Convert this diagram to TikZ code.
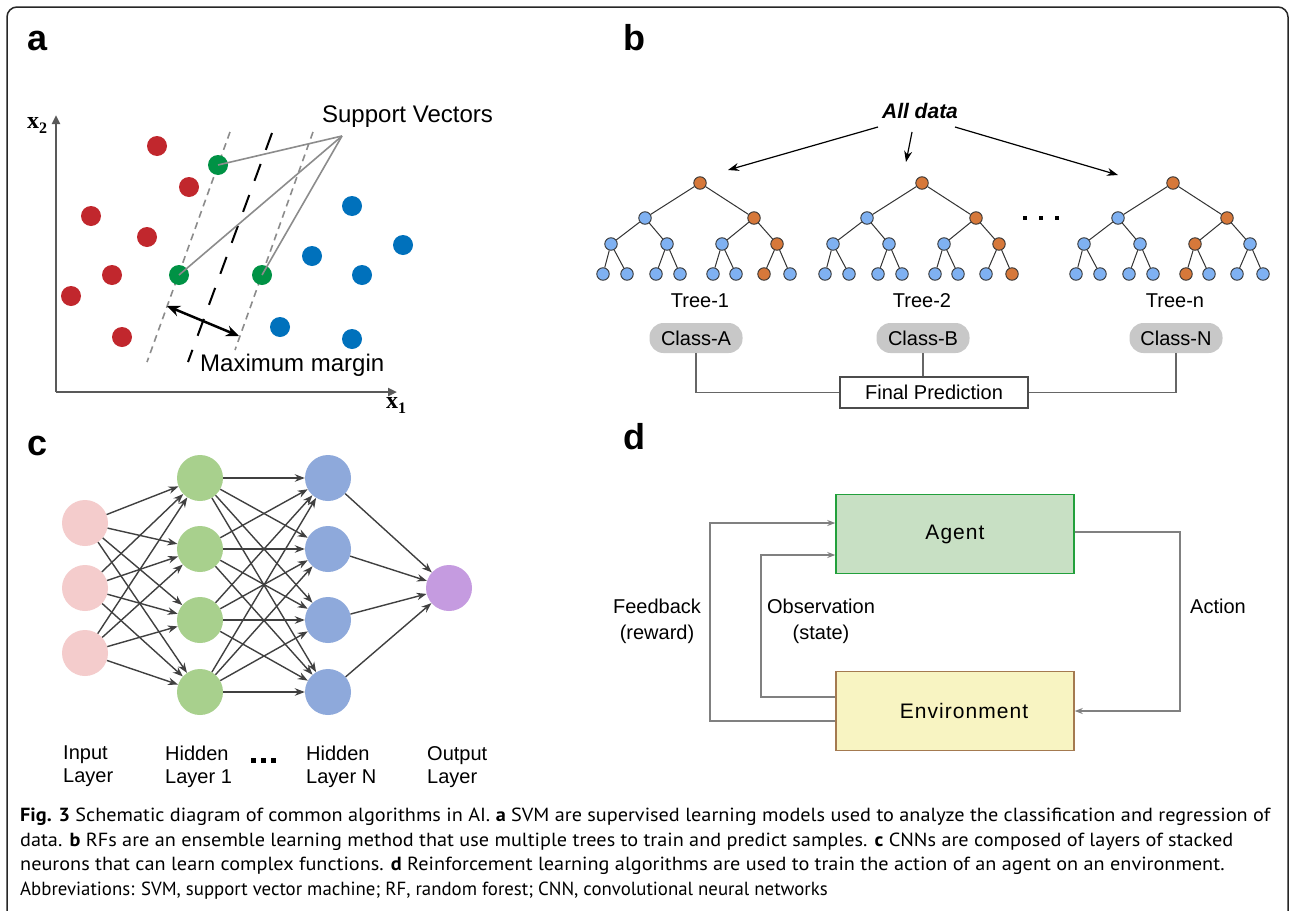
\documentclass[tikz,border=0pt]{standalone}
\usepackage{fontspec}
\setmainfont{Liberation Sans}
\newfontfamily\capfont{PT Sans}
\newfontfamily\serifx{Liberation Serif}
\usepackage{graphicx}
\usetikzlibrary{arrows.meta,calc}

\definecolor{svmred}{HTML}{C1272D}
\definecolor{svmgreen}{HTML}{009245}
\definecolor{svmblue}{HTML}{0071BC}
\definecolor{rfblue}{HTML}{7FB1F2}
\definecolor{rforange}{HTML}{D6783A}
\definecolor{nnpink}{HTML}{F4CCCC}
\definecolor{nngreen}{HTML}{A8D08D}
\definecolor{nnblue}{HTML}{8EA9DB}
\definecolor{nnpurple}{HTML}{C59BE0}
\definecolor{agentfill}{HTML}{C8E0C4}
\definecolor{agentdraw}{HTML}{22A03C}
\definecolor{envfill}{HTML}{F8F4C2}
\definecolor{envdraw}{HTML}{A47A50}
\definecolor{pillgray}{HTML}{C8C8C8}

\newcommand\fsz[2]{\fontsize{#1}{#2}\selectfont}

\newcommand\rftree[5]{%
  \node[rfo] (#2r) at (#1,183) {};
  \foreach \i/\dx in {1/-55,2/54}{%
    \ifnum\i=#3\relax \node[rfo] (#2a\i) at (#1+\dx,218) {};\else \node[rfb] (#2a\i) at (#1+\dx,218) {};\fi}
  \foreach \i/\dx in {1/-89,2/-33,3/22,4/77}{%
    \ifnum\i=#4\relax \node[rfo] (#2b\i) at (#1+\dx,244) {};\else \node[rfb] (#2b\i) at (#1+\dx,244) {};\fi}
  \foreach \i/\dx in {1/-97,2/-73,3/-44,4/-20,5/13,6/36,7/64,8/90}{%
    \ifnum\i=#5\relax \node[rfo] (#2c\i) at (#1+\dx,274) {};\else \node[rfb] (#2c\i) at (#1+\dx,274) {};\fi}
  \foreach \k in {1,2}{%
    \pgfmathtruncatemacro\mA{2*\k-1}\pgfmathtruncatemacro\mB{2*\k}%
    \draw[rfedge] (#2r) -- (#2a\k);
    \draw[rfedge] (#2a\k) -- (#2b\mA);
    \draw[rfedge] (#2a\k) -- (#2b\mB);}
  \foreach \k in {1,...,4}{%
    \pgfmathtruncatemacro\mA{2*\k-1}\pgfmathtruncatemacro\mB{2*\k}%
    \draw[rfedge] (#2b\k) -- (#2c\mA);
    \draw[rfedge] (#2b\k) -- (#2c\mB);}
}

\newsavebox\capboxA
\newlength\capwA

\begin{document}
\sbox\capboxA{\capfont\fsz{19}{23}\textbf{Fig. 3} Schematic diagram of common algorithms in AI. \textbf{a} SVM are supervised learning models used to analyze the classification and regression of}%
\setlength\capwA{\wd\capboxA}%
\pgfmathsetmacro\capsc{1250/\capwA}%
\pgfmathsetmacro\capscD{0.93*\capsc}%
\begin{tikzpicture}[x=1pt,y=-1pt,
  lab/.style={anchor=base west, inner sep=0, font=\fsz{36}{36}\bfseries},
  axis/.style={draw=black!65, line width=2.5pt, -{Triangle[length=9pt,width=8pt]}},
  dot/.style={circle, inner sep=0, minimum size=20pt, draw=none},
  svdash/.style={draw=black!45, line width=1.6pt, dash pattern=on 7pt off 5pt},
  midline/.style={draw=black, line width=2pt, dash pattern=on 18pt off 15pt},
  svline/.style={draw=black!45, line width=1.6pt},
  marg/.style={draw=black, line width=2.5pt, {Stealth[length=13pt,width=11pt]}-{Stealth[length=13pt,width=11pt]}},
  txt/.style={inner sep=0, font=\fsz{20}{24}},
  rfb/.style={circle, inner sep=0, minimum size=12.5pt, fill=rfblue, draw=black!80, line width=0.9pt},
  rfo/.style={rfb, fill=rforange},
  rfedge/.style={draw=black!80, line width=1pt},
  rfarr/.style={draw=black, line width=1.2pt, -{Stealth[length=11pt,width=8pt]}},
  pill/.style={rectangle, rounded corners=14pt, fill=pillgray, minimum width=93pt, minimum height=30pt, inner sep=0, font=\fsz{20}{24}},
  conn/.style={draw=black!60, line width=1.5pt},
  nn/.style={circle, inner sep=0, minimum size=46pt, draw=none},
  nnarr/.style={draw=black!75, line width=1.4pt, -{Stealth[length=10pt,width=7.5pt]}},
  nnlab/.style={anchor=north west, inner sep=0, align=left, font=\fsz{20}{23}},
  dbox/.style={rectangle, minimum width=238pt, minimum height=79pt, inner sep=0, line width=1.5pt, font=\fsz{21}{24}\addfontfeature{LetterSpace=5}},
  dline/.style={draw=black!50, line width=1.5pt},
  darr/.style={dline, -{Stealth[length=8pt,width=6pt]}},
  dlab/.style={anchor=north, inner sep=0, align=center, font=\fsz{20}{26}},
  capline/.style={anchor=base west, inner sep=0}
]
\useasboundingbox (0,0) rectangle (1292,910);
\fill[white] (0,0) rectangle (1292,910);
\draw[line width=1.5pt, draw=black!85, rounded corners=10pt] (7,7) rectangle (1288,960);

% ---------------- panel a ----------------
\node[lab] (la) at (27,50) {a};
\coordinate (O) at (56,392);
\coordinate (yt) at (56,115);
\coordinate (xt) at (397,392);
\draw[axis] (O) -- (yt);
\draw[axis] (O) -- (xt);
\node[anchor=base west, inner sep=0] (xtwo) at (27,128) {\serifx\bfseries\fsz{24}{24}x\raisebox{-5pt}{\fsz{16}{16}2}};
\node[anchor=base west, inner sep=0] (xone) at (386,408) {\serifx\bfseries\fsz{24}{24}x\raisebox{-5pt}{\fsz{16}{16}1}};

\draw[svdash] (230,132) -- (147,362);
\draw[svdash] (313,132) -- (235,350);
\draw[midline] (272,133) -- (188,362);

\foreach \n/\x/\y in {1/157/146,2/189/187,3/91/216,4/147/237,5/112/275,6/71/296,7/122/337}
  \node[dot, fill=svmred] (r\n) at (\x,\y) {};
\foreach \n/\x/\y in {1/352/206,2/403/245,3/312/256,4/362/275,5/280/327,6/352/339}
  \node[dot, fill=svmblue] (bl\n) at (\x,\y) {};
\node[dot, fill=svmgreen] (g1) at (218,165) {};
\node[dot, fill=svmgreen] (g2) at (179,275) {};
\node[dot, fill=svmgreen] (g3) at (262,275) {};

\coordinate (sv) at (342,136);
\draw[svline] (sv) -- (g1.center);
\draw[svline] (sv) -- (g2.center);
\draw[svline] (sv) -- (g3.center);
\node[anchor=base, inner sep=0, font=\fsz{24}{28}] (svt) at (407.5,122) {Support Vectors};

\coordinate (ma1) at (167,306);
\coordinate (ma2) at (239,336);
\draw[marg] (ma1) -- (ma2);
\node[anchor=base west, inner sep=0, font=\fsz{24}{28}] (mmt) at (200,371) {Maximum margin};

% ---------------- panel b ----------------
\node[lab] (lb) at (623,50) {b};
\node[anchor=base, inner sep=0, font=\fsz{21}{24}\bfseries\itshape] (alldata) at (920,118) {All data};
\coordinate (ad1) at (878,127); \coordinate (ad1e) at (728,170);
\coordinate (ad2) at (912,132); \coordinate (ad2e) at (906,162);
\coordinate (ad3) at (955,127); \coordinate (ad3e) at (1118,175);
\draw[rfarr] (ad1) -- (ad1e);
\draw[rfarr] (ad2) -- (ad2e);
\draw[rfarr] (ad3) -- (ad3e);

\rftree{700}{ta}{2}{4}{7}
\rftree{922}{tb}{2}{4}{8}
\rftree{1173}{tn}{2}{3}{5}

\foreach \x in {1025,1041,1057} \fill (\x-2.2,215.8) rectangle (\x+2.2,220.2);

\node[txt, anchor=base] (tree1) at (700,307) {Tree-1};
\node[txt, anchor=base] (tree2) at (922,307) {Tree-2};
\node[txt, anchor=base] (treen) at (1175,307) {Tree-n};

\node[pill] (classA) at (696,338) {Class-A};
\node[pill] (classB) at (923,338) {Class-B};
\node[pill] (classN) at (1176,338) {Class-N};
\node[rectangle, draw=black!70, line width=1.3pt, minimum width=188pt, minimum height=31pt, inner sep=0, font=\fsz{20}{24}] (fp) at (934,392.5) {Final Prediction};
\draw[conn] (classA.south) |- (fp.west);
\draw[conn] (classB.south) -- (classB.south |- fp.north);
\draw[conn] (classN.south) |- (fp.east);

% ---------------- panel c ----------------
\node[lab] (lc) at (27,455) {c};
\foreach \n/\y in {1/523,2/588,3/653}
  \node[nn, fill=nnpink] (in\n) at (85,\y) {};
\foreach \n/\y in {1/478,2/549,3/620,4/692}
  \node[nn, fill=nngreen] (ha\n) at (200,\y) {};
\foreach \n/\y in {1/478,2/549,3/620,4/692}
  \node[nn, fill=nnblue] (hb\n) at (328,\y) {};
\node[nn, fill=nnpurple] (out) at (449,588) {};
\foreach \i in {1,2,3}{\foreach \j in {1,...,4}{\draw[nnarr] (in\i) -- (ha\j);}}
\foreach \i in {1,...,4}{\foreach \j in {1,...,4}{\draw[nnarr] (ha\i) -- (hb\j);}}
\foreach \i in {1,...,4}{\draw[nnarr] (hb\i) -- (out);}

\node[nnlab] (lin) at (63,746) {Input\\Layer};
\node[nnlab] (lh1) at (165,746) {Hidden\\Layer 1};
\node[nnlab] (lhn) at (306,746) {Hidden\\Layer N};
\node[nnlab] (lout) at (427,746) {Output\\Layer};
\foreach \x in {253,263,273} \fill (\x-2.5,757.5) rectangle (\x+2.5,762.5);

% ---------------- panel d ----------------
\node[lab] (ld) at (623,449) {d};
\node[dbox, fill=agentfill, draw=agentdraw] (agent) at (955,534) {Agent};
\node[dbox, fill=envfill, draw=envdraw] (env) at (955,711) {\hspace*{18pt}Environment};
\coordinate (fbx) at (710,620);
\coordinate (obx) at (761,620);
\coordinate (acx) at (1180,620);
\draw[darr] ([yshift=-10pt]env.west) -| (fbx) |- ([yshift=11pt]agent.west);
\draw[darr] ([yshift=14pt]env.west) -| (obx) |- ([yshift=-21pt]agent.west);
\draw[darr] ([yshift=2pt]agent.east) -| (acx) |- (env.east);
\node[dlab] (fbl) at (657,599) {Feedback\\(reward)};
\node[dlab] (obl) at (821,599) {Observation\\(state)};
\node[dlab] (acl) at (1218,599) {Action};

% ---------------- caption ----------------
\node[capline] (cap1) at (20,821.5) {\scalebox{\capsc}[1]{\usebox\capboxA}};
\node[capline] (cap2) at (20,846) {\scalebox{\capsc}[1]{\capfont\fsz{19}{23}data. \textbf{b} RFs are an ensemble learning method that use multiple trees to train and predict samples. \textbf{c} CNNs are composed of layers of stacked}};
\node[capline] (cap3) at (20,870.5) {\scalebox{\capsc}[1]{\capfont\fsz{19}{23}neurons that can learn complex functions. \textbf{d} Reinforcement learning algorithms are used to train the action of an agent on an environment.}};
\node[capline] (cap4) at (20,895) {\scalebox{\capscD}[1]{\capfont\fsz{19}{23}Abbreviations: SVM, support vector machine; RF, random forest; CNN, convolutional neural networks}};
\end{tikzpicture}
\end{document}
